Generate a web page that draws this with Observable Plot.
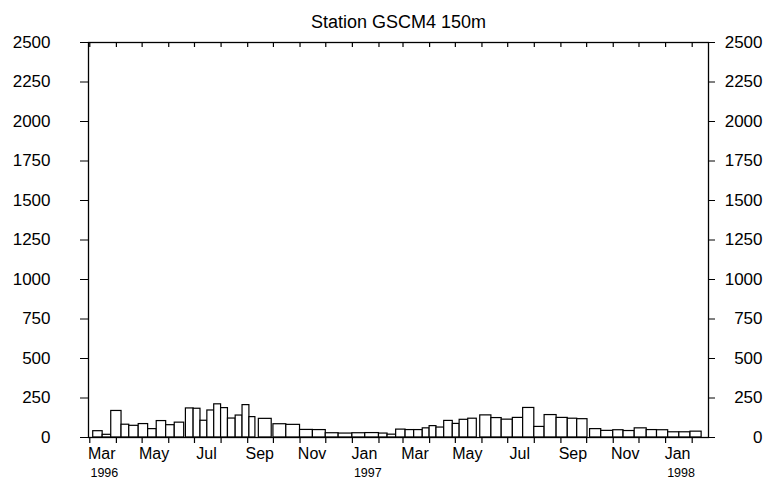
<!DOCTYPE html>
<html>
<head>
<meta charset="utf-8">
<script src="https://cdn.jsdelivr.net/npm/d3@7"></script>
<script src="https://cdn.jsdelivr.net/npm/@observablehq/plot@0.6"></script>
<style>
  html, body { margin: 0; padding: 0; background: #fff; }
  #chart svg { display: block; }
</style>
</head>
<body>
<div id="chart"></div>
<script>
// Sample collection periods (start / end) and flux values
const binStart = [
  "1996-03-05","1996-03-16","1996-03-26","1996-04-07","1996-04-16","1996-04-27",
  "1996-05-08","1996-05-18","1996-05-29","1996-06-08","1996-06-21","1996-06-30",
  "1996-07-08","1996-07-16","1996-07-24","1996-08-01","1996-08-09","1996-08-18",
  "1996-08-26","1996-09-03","1996-09-14","1996-10-01","1996-10-16","1996-11-01",
  "1996-11-16","1996-12-01","1996-12-16","1997-01-01","1997-01-16","1997-02-01",
  "1997-02-11","1997-02-21","1997-03-04","1997-03-14","1997-03-24","1997-04-01",
  "1997-04-09","1997-04-18","1997-04-28","1997-05-06","1997-05-16","1997-05-30",
  "1997-06-12","1997-06-24","1997-07-07","1997-07-19","1997-08-01","1997-08-13",
  "1997-08-27","1997-09-09","1997-09-20","1997-10-05","1997-10-18","1997-11-01",
  "1997-11-13","1997-11-26","1997-12-10","1997-12-22","1998-01-04","1998-01-17",
  "1998-01-30"
];
const binEnd = [
  "1996-03-16","1996-03-26","1996-04-07","1996-04-16","1996-04-27","1996-05-08",
  "1996-05-18","1996-05-29","1996-06-08","1996-06-19","1996-06-30","1996-07-08",
  "1996-07-16","1996-07-24","1996-08-01","1996-08-09","1996-08-18","1996-08-26",
  "1996-09-03","1996-09-10","1996-09-29","1996-10-16","1996-11-01","1996-11-16",
  "1996-12-01","1996-12-16","1997-01-01","1997-01-16","1997-02-01","1997-02-11",
  "1997-02-21","1997-03-04","1997-03-14","1997-03-24","1997-04-01","1997-04-09",
  "1997-04-18","1997-04-28","1997-05-06","1997-05-16","1997-05-26","1997-06-12",
  "1997-06-24","1997-07-07","1997-07-19","1997-08-01","1997-08-13","1997-08-27",
  "1997-09-09","1997-09-20","1997-10-02","1997-10-18","1997-11-01","1997-11-13",
  "1997-11-26","1997-12-10","1997-12-22","1998-01-04","1998-01-17","1998-01-30",
  "1998-02-12"
];
const flux = [
  40, 17, 168, 81, 74, 85,
  53, 104, 78, 94, 184, 182,
  106, 171, 210, 186, 120, 139,
  205, 129, 118, 84, 80, 48,
  47, 27, 25, 27, 28, 25,
  18, 50, 47, 47, 58, 72,
  63, 105, 86, 112, 119, 140,
  123, 113, 124, 187, 67, 142,
  124, 119, 116, 53, 42, 46,
  41, 58, 47, 46, 33, 33,
  37
];

const yTicks = [0, 250, 500, 750, 1000, 1250, 1500, 1750, 2000, 2250, 2500];
const monthLabels = ["Mar","May","Jul","Sep","Nov","Jan","Mar","May","Jul","Sep","Nov","Jan"];
const monthLabelDates = ["1996-03-15","1996-05-15","1996-07-15","1996-09-15","1996-11-15","1997-01-15",
  "1997-03-15","1997-05-15","1997-07-15","1997-09-15","1997-11-15","1998-01-15"];
const yearLabels = ["1996","1997","1998"];
const yearLabelDates = ["1996-03-18","1997-01-19","1998-01-19"];
const title = "Station GSCM4 150m";

const data = binStart.map((s, i) => ({start: new Date(s), end: new Date(binEnd[i]), value: flux[i]}));
const monthTicks = d3.utcMonths(new Date("1996-03-01"), new Date("1998-02-02"));
const font = "'Liberation Sans', Arial, Helvetica, sans-serif";

const chart = Plot.plot({
  width: 768,
  height: 485,
  marginLeft: 88,
  marginRight: 60,
  marginTop: 42,
  marginBottom: 48,
  style: {fontFamily: font, fontSize: "17px", color: "black", background: "white"},
  x: {type: "utc", axis: null, domain: [new Date("1996-02-28T12:00Z"), new Date("1998-02-20T00:00Z")]},
  y: {domain: [0, 2500], label: null, axis: null},
  marks: [
    Plot.rectY(data, {x1: "start", x2: "end", y: "value", fill: "white", stroke: "black", strokeWidth: 1.2}),
    Plot.frame({stroke: "black", strokeWidth: 1.3}),
    // monthly ticks, bottom (outward) and top (inward)
    Plot.ruleX(monthTicks, {x: d => d, insetTop: 395, insetBottom: -6, stroke: "black", strokeWidth: 1.2}),
    Plot.ruleX(monthTicks, {x: d => d, insetBottom: 390, stroke: "black", strokeWidth: 1.2}),
    Plot.axisY(yTicks, {anchor: "left", label: null, tickFormat: d => String(d), tickSize: 8, tickPadding: 30, fontSize: 17, stroke: "black"}),
    Plot.axisY(yTicks, {anchor: "right", label: null, tickFormat: d => String(d), tickSize: 6, tickPadding: 48, textAnchor: "end", fontSize: 17, stroke: "black"}),
    Plot.text(monthLabels, {x: monthLabelDates.map(d => new Date(d)), text: d => d, frameAnchor: "bottom",
      lineAnchor: "top", dy: 10, fontSize: 16, fill: "black"}),
    Plot.text(yearLabels, {x: yearLabelDates.map(d => new Date(d)), text: d => d, frameAnchor: "bottom",
      lineAnchor: "top", dy: 31, fontSize: 12.5, fill: "black"}),
    Plot.text([title], {frameAnchor: "top", lineAnchor: "bottom", dy: -15, fontSize: 18, fill: "black"})
  ]
});
document.getElementById("chart").append(chart);
</script>
</body>
</html>
